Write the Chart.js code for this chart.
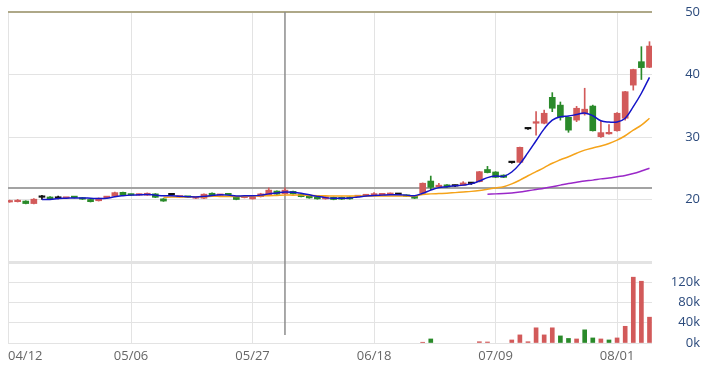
<!DOCTYPE html>
<html>
<head>
<meta charset="utf-8">
<script src="https://cdn.jsdelivr.net/npm/chart.js@4.4.1/dist/chart.umd.min.js"></script>
<style>
  html, body { margin: 0; padding: 0; background: #fff; }
  #wrap { width: 704px; height: 370px; }
</style>
</head>
<body>
<div id="wrap"><canvas id="stockCHART" width="704" height="370"></canvas></div>
<script>
// daily OHLC, 80 trading days from 04/12
var opens  = [19.6,19.65,19.75,19.35,20.35,20.4,20.2,20.2,20.4,20.25, 20.0,19.8,20.3,20.55,21.15,20.8,20.7,20.7,20.9,20.1,
              20.75,20.4,20.45,20.2,20.2,21.0,20.65,20.85,20.45,20.3, 20.1,20.45,20.7,21.35,20.9,21.3,20.85,20.55,20.4,20.1,
              20.35,20.35,20.4,20.45,20.6,20.7,20.75,20.8,20.8,20.7, 20.5,21.0,22.95,22.05,22.35,22.15,22.3,22.55,22.85,24.8,
              24.4,23.9,25.9,25.95,31.3,32.2,32.2,36.35,35.1,33.15, 32.7,33.7,34.95,30.05,30.5,31.0,33.0,38.3,42.05,41.15];
var highs  = [19.9,20.0,19.8,20.15,20.65,20.45,20.55,20.35,20.45,20.3, 20.05,20.25,20.45,21.2,21.2,20.85,20.85,21.05,20.95,20.15,
              20.95,20.55,20.5,20.5,20.9,21.05,20.8,20.9,20.5,20.6, 20.5,21.0,21.85,21.4,21.85,21.35,20.9,20.6,20.45,20.5,
              20.4,20.4,20.45,20.6,20.7,21.1,20.95,21.05,20.9,20.75, 20.55,22.65,23.75,22.6,22.4,22.3,22.85,22.7,24.5,25.3,
              24.45,23.95,26.0,28.4,31.45,34.05,34.3,37.1,35.6,33.2, 34.9,37.8,35.1,32.5,32.0,33.9,37.3,40.85,44.45,45.25];
var lows   = [19.55,19.6,19.3,19.3,20.0,20.0,20.1,20.15,20.25,20.0, 19.6,19.75,20.25,20.5,20.65,20.65,20.65,20.65,20.3,19.7,
              20.6,20.35,20.3,20.15,20.15,20.55,20.6,20.7,19.95,20.25, 20.05,20.4,20.65,20.8,20.85,20.85,20.4,20.2,20.05,20.05,
              19.95,20.0,20.05,20.4,20.55,20.65,20.7,20.75,20.75,20.45, 20.15,20.95,21.55,22.0,21.95,22.05,22.25,22.4,22.8,24.25,
              23.5,23.5,25.8,25.9,31.2,30.3,32.1,34.05,32.7,30.75, 32.45,33.5,30.95,29.95,30.45,30.95,32.7,37.5,39.2,41.1];
var closes = [19.8,19.85,19.35,20.05,20.35,20.05,20.2,20.3,20.3,20.05, 19.65,20.2,20.4,21.1,20.7,20.7,20.8,21.0,20.35,19.75,
              20.75,20.5,20.35,20.45,20.85,20.6,20.75,20.75,20.0,20.45, 20.45,20.9,21.5,20.85,21.5,20.9,20.45,20.25,20.1,20.45,
              20.0,20.05,20.1,20.55,20.65,20.8,20.85,21.0,20.8,20.5, 20.2,22.6,21.95,22.25,22.0,22.15,22.65,22.55,24.45,24.3,
              23.55,23.55,25.9,28.35,31.3,32.45,33.8,34.6,33.15,31.1, 34.6,34.45,31.0,30.7,30.75,33.8,37.25,40.8,41.1,44.55];

// volume (shares, 0 = too small to see) and its bar colour: 1 = up (red), -1 = down (green)
var volumes = [0,0,0,0,0,0,0,0,0,0, 0,0,0,0,0,0,0,0,0,0,
               0,0,0,0,0,0,0,0,0,0, 0,0,0,0,0,0,0,0,0,0,
               0,0,0,0,0,0,0,0,0,0, 0,1500,8000,0,0,0,0,0,2500,2000,
               0,0,6000,16000,2500,30000,16000,30000,14000,9000, 8000,26000,10000,8000,6000,10000,33000,130000,122000,51000];
var volDir  = [1,1,-1,1,1,-1,1,1,-1,-1, -1,1,1,1,-1,-1,1,1,-1,-1,
               1,1,-1,1,1,-1,1,-1,-1,1, 1,1,1,-1,1,-1,-1,-1,-1,1,
               -1,-1,-1,1,1,1,1,1,-1,-1, -1,1,-1,1,-1,1,1,-1,1,1,
               -1,-1,1,1,1,1,1,1,-1,-1, 1,-1,-1,1,-1,1,1,1,1,1];

// moving averages as drawn (5, 20 and 60 day)
var ma5Start = 4;
var ma5  = [20.0,20.0,20.15,20.2,20.25,20.25,20.2,20.15,20.2,20.45, 20.6,20.7,20.75,20.8,20.7,20.6,20.6,20.5,20.45,20.4,
            20.5,20.65,20.75,20.7,20.55,20.6,20.6,20.7,20.9,21.05, 21.2,21.15,21.0,20.75,20.5,20.3,20.2,20.2,20.25,20.4,
            20.55,20.65,20.7,20.75,20.75,20.7,20.6,21.0,21.5,21.9, 22.05,22.2,22.3,22.5,22.95,23.5,23.75,23.7,24.4,25.7,
            27.5,29.4,31.3,32.7,33.25,33.35,33.6,33.85,33.4,32.6, 32.4,32.4,33.0,34.85,37.0,39.55];
var ma20Start = 19;
var ma20 = [20.35,20.4,20.4,20.4,20.45,20.45,20.5,20.5,20.5,20.5, 20.5,20.55,20.6,20.6,20.65,20.7,20.7,20.7,20.65,20.6,
            20.6,20.55,20.55,20.55,20.55,20.55,20.55,20.55,20.55,20.55, 20.55,20.55,20.8,20.9,20.95,21.0,21.1,21.2,21.3,21.45,
            21.65,21.85,22.05,22.5,23.1,23.8,24.45,25.1,25.8,26.35, 26.85,27.4,27.9,28.25,28.55,28.95,29.5,30.2,31.1,31.9,
            33.0];
var ma60Start = 59;
var ma60 = [20.85,20.9,20.95,21.05,21.2,21.4,21.6,21.8,22.05,22.3, 22.55,22.75,22.95,23.1,23.3,23.45,23.65,23.85,24.15,24.55,
            25.0];

// x axis labels and the crosshair
var tickDays   = [0, 15, 30, 45, 60, 75];
var tickLabels = ['04/12', '05/06', '05/27', '06/18', '07/09', '08/01'];
var crossDay = 34, crossPrice = 21.85;

var UP = '#d25a5a', DOWN = '#2a8a2a', FLAT = '#111';

var candleColors = opens.map(function (o, i) {
    return closes[i] > o ? UP : (closes[i] < o ? DOWN : FLAT);
});
var volColors = volDir.map(function (d) { return d > 0 ? UP : DOWN; });

function xy(arr, start) {
    return arr.map(function (v, i) { return { x: start + i, y: v }; });
}

var crossPlugin = {
    id: 'cross',
    beforeDatasetsDraw: function (chart) {
        var c = chart.ctx, a = chart.chartArea;
        var px = chart.scales.x.getPixelForValue(crossDay);
        var py = chart.scales.yP.getPixelForValue(crossPrice);
        c.save();
        c.strokeStyle = '#a3a3a3';
        c.lineWidth = 2;
        c.beginPath(); c.moveTo(a.left, py); c.lineTo(a.right, py); c.stroke();
        c.strokeStyle = '#8c8c8c';
        c.lineWidth = 1.5;
        c.beginPath(); c.moveTo(px, a.top); c.lineTo(px, a.bottom - 8); c.stroke();
        c.restore();
    },
    afterDraw: function (chart) {
        var c = chart.ctx, a = chart.chartArea, xs = chart.scales.x;
        c.save();
        c.font = '13px "Open Sans"';
        c.fillStyle = '#666';
        c.textBaseline = 'middle';
        tickDays.forEach(function (d, i) {
            var px = xs.getPixelForValue(d);
            c.textAlign = i === 0 ? 'left' : 'center';
            c.fillText(tickLabels[i], i === 0 ? a.left : px, a.bottom + 13);
        });
        c.restore();
    }
};

var ctx = document.getElementById('stockCHART');
var stockChart = new Chart(ctx, {
    type: 'bar',
    data: {
        datasets: [{
            type: 'line', data: xy(ma5, ma5Start), yAxisID: 'yP',
            borderColor: '#1414c8', borderWidth: 1.5, pointRadius: 0, tension: 0.4
        }, {
            type: 'line', data: xy(ma20, ma20Start), yAxisID: 'yP',
            borderColor: '#f5a31a', borderWidth: 1.5, pointRadius: 0, tension: 0.4
        }, {
            type: 'line', data: xy(ma60, ma60Start), yAxisID: 'yP',
            borderColor: '#9a28c8', borderWidth: 1.5, pointRadius: 0, tension: 0.4
        }, {
            // candle bodies
            data: opens.map(function (o, i) { return { x: i, y: [o, closes[i]] }; }),
            yAxisID: 'yP', backgroundColor: candleColors, barThickness: 6, minBarLength: 1.5
        }, {
            // wicks
            data: lows.map(function (l, i) { return { x: i, y: [l, highs[i]] }; }),
            yAxisID: 'yP', backgroundColor: candleColors, barThickness: 1
        }, {
            // volume, empty days left out
            data: volumes.map(function (v, i) { return { x: i, y: v > 0 ? v : null }; }),
            yAxisID: 'yV', backgroundColor: volColors, barThickness: 4
        }]
    },
    options: {
        responsive: false,
        animation: false,
        events: [],
        layout: { padding: { top: 12, right: 4, bottom: 27, left: 8 } },
        datasets: { bar: { grouped: false } },
        plugins: { legend: { display: false }, tooltip: { enabled: false } },
        scales: {
            x: {
                type: 'linear', min: -0.19, max: 79.31, offset: false,
                grid: { color: '#e3e3e3', drawTicks: false, offset: false },
                border: { display: false },
                ticks: { display: false },
                afterBuildTicks: function (s) {
                    s.ticks = [s.min].concat(tickDays.slice(1)).map(function (v) { return { value: v }; });
                }
            },
            yP: {
                position: 'right', stack: 'main', stackWeight: 250,
                min: 10, max: 50, beginAtZero: false,
                grid: {
                    drawTicks: false,
                    color: function (c) { return c.tick && c.tick.value === 50 ? '#aea888' : '#e3e3e3'; },
                    lineWidth: function (c) { return c.tick && c.tick.value === 50 ? 2 : (c.tick && c.tick.value === 10 ? 3 : 1); }
                },
                border: { display: false },
                ticks: {
                    stepSize: 10, autoSkip: false, crossAlign: 'far', color: '#2b4a7c',
                    font: { family: 'Open Sans', size: 13 },
                    callback: function (v) { return v === 10 ? '' : v; }
                },
                afterFit: function (s) { s.width = 48; }
            },
            yV: {
                position: 'right', stack: 'main', stackWeight: 81,
                min: 0, max: 160000,
                grid: { drawTicks: false, color: '#e3e3e3' },
                border: { display: false },
                ticks: {
                    stepSize: 40000, autoSkip: false, crossAlign: 'far', color: '#2b4a7c',
                    font: { family: 'Open Sans', size: 13 },
                    callback: function (v) { return v === 160000 ? '' : (v / 1000) + 'k'; }
                },
                afterFit: function (s) { s.width = 48; }
            }
        }
    },
    plugins: [crossPlugin]
});
</script>
</body>
</html>
